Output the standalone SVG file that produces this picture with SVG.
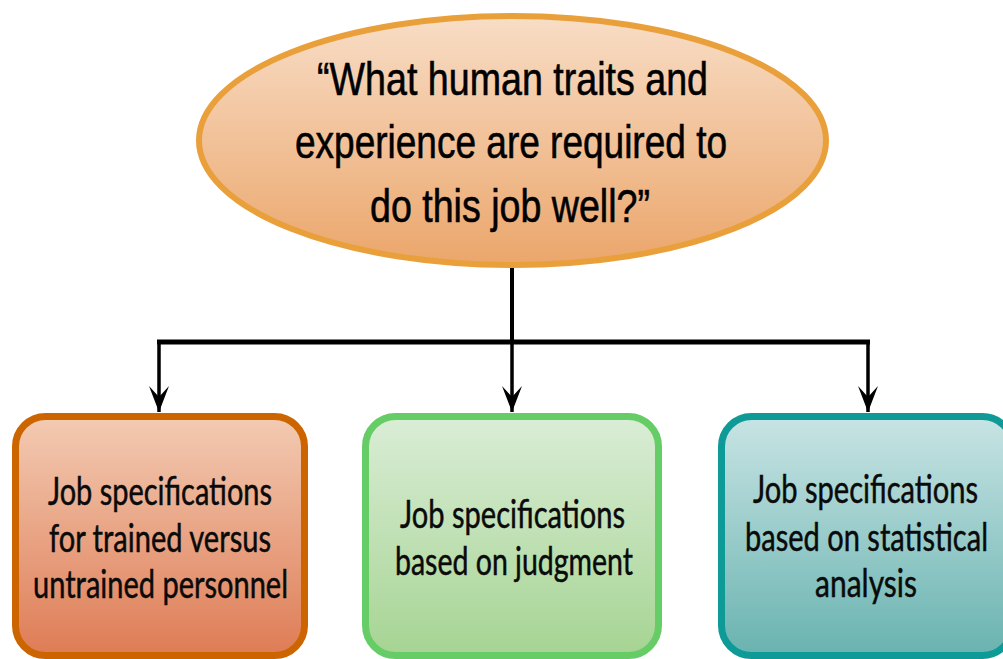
<svg xmlns="http://www.w3.org/2000/svg" width="1003" height="659" viewBox="0 0 1003 659">
<style>
.q{font-family:"Liberation Sans",Arial,sans-serif;font-size:46px;fill:#000;stroke:#000;stroke-width:0.6;text-anchor:middle}
.b{font-family:Lato,"Open Sans",sans-serif;font-size:38px;fill:#0a0a0a;stroke:#0a0a0a;stroke-width:0.5;text-anchor:middle}
.conn{stroke:#000;fill:none}
</style>
<defs>
<linearGradient id="gE" x1="0" y1="0" x2="0" y2="1"><stop offset="0" stop-color="#F8DDC6"/><stop offset="1" stop-color="#EBA66B"/></linearGradient>
<linearGradient id="gL" x1="0" y1="0" x2="0" y2="1"><stop offset="0" stop-color="#F3CBB3"/><stop offset="1" stop-color="#DE7C55"/></linearGradient>
<linearGradient id="gM" x1="0" y1="0" x2="0" y2="1"><stop offset="0" stop-color="#DAEDD6"/><stop offset="1" stop-color="#A6D493"/></linearGradient>
<linearGradient id="gR" x1="0" y1="0" x2="0" y2="1"><stop offset="0" stop-color="#C8E4E4"/><stop offset="1" stop-color="#69B3B0"/></linearGradient>
<marker id="ah" markerUnits="userSpaceOnUse" markerWidth="30" markerHeight="24" viewBox="-28 -12 30 24" refX="0" refY="0" orient="auto">
<path d="M0,0 L-26,-10 L-15,0 L-26,10 Z" fill="#000"/>
</marker>
</defs>
<g id="connectors">
<line class="conn" x1="512" y1="266" x2="512" y2="342" stroke-width="4"/>
<line class="conn" x1="157" y1="342" x2="870" y2="342" stroke-width="5"/>
<line class="conn" x1="159" y1="340" x2="159" y2="412" stroke-width="3.5" marker-end="url(#ah)"/>
<line class="conn" x1="512" y1="340" x2="512" y2="412" stroke-width="3.5" marker-end="url(#ah)"/>
<line class="conn" x1="868" y1="340" x2="868" y2="412" stroke-width="3.5" marker-end="url(#ah)"/>
</g>
<g id="question">
<ellipse cx="512.5" cy="140.5" rx="313.5" ry="124.5" fill="url(#gE)" stroke="#E9A03B" stroke-width="6"/>
<text class="q" x="512.5" y="95" textLength="391" lengthAdjust="spacingAndGlyphs">“What human traits and</text>
<text class="q" x="511" y="158" textLength="432" lengthAdjust="spacingAndGlyphs">experience are required to</text>
<text class="q" x="510" y="222" textLength="280" lengthAdjust="spacingAndGlyphs">do this job well?”</text>
</g>
<g id="trained">
<rect x="15.5" y="416.5" width="289" height="239" rx="30" fill="url(#gL)" stroke="#CC6500" stroke-width="7"/>
<text class="b" x="160" y="505" textLength="224" lengthAdjust="spacingAndGlyphs">Job specifications</text>
<text class="b" x="160" y="552" textLength="222" lengthAdjust="spacingAndGlyphs">for trained versus</text>
<text class="b" x="160.5" y="598" textLength="255" lengthAdjust="spacingAndGlyphs">untrained personnel</text>
</g>
<g id="judgment">
<rect x="365.5" y="416.5" width="293" height="239" rx="30" fill="url(#gM)" stroke="#66CC66" stroke-width="7"/>
<text class="b" x="512.5" y="528" textLength="225" lengthAdjust="spacingAndGlyphs">Job specifications</text>
<text class="b" x="514" y="575" textLength="238" lengthAdjust="spacingAndGlyphs">based on judgment</text>
</g>
<g id="statistical">
<rect x="721.5" y="416.5" width="291" height="239" rx="30" fill="url(#gR)" stroke="#0E9A97" stroke-width="7"/>
<text class="b" x="865.5" y="503" textLength="225" lengthAdjust="spacingAndGlyphs">Job specifications</text>
<text class="b" x="866.5" y="551" textLength="243" lengthAdjust="spacingAndGlyphs">based on statistical</text>
<text class="b" x="866" y="597" textLength="102" lengthAdjust="spacingAndGlyphs">analysis</text>
</g>
</svg>
